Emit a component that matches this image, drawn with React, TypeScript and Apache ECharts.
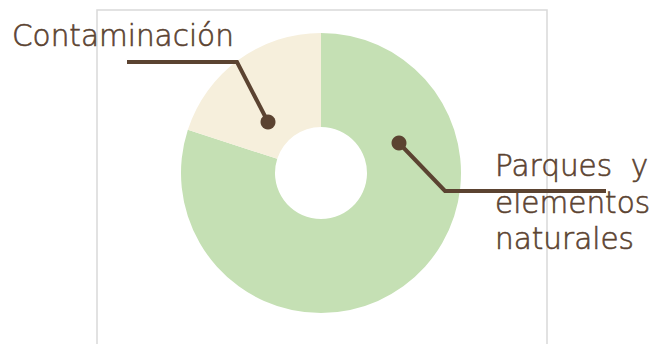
import React, { useEffect, useRef } from "react";
import * as echarts from "echarts";

const categories = ["Parques y elementos naturales", "Contaminación"];
const values = [80, 20];
const colors = ["#c5e0b4", "#f6efdc"];
const labelLines = [["Parques  y", "elementos", "naturales"], ["Contaminación"]];

const BROWN = "#5b4331";
const FONT = "DejaVu Sans";

export default function App() {
  const ref = useRef<HTMLDivElement>(null);
  useEffect(() => {
    if (!ref.current) return;
    const chart = echarts.init(ref.current, undefined, { renderer: "svg" });
    const textStyle = (x: number, y: number, t: string) => ({
      type: "text",
      x,
      y,
      style: {
        text: t,
        fill: BROWN,
        stroke: BROWN,
        lineWidth: 0.6,
        font: `200 29.5px '${FONT}'`,
        verticalAlign: "middle",
        align: "left",
      },
      z: 20,
    });
    chart.setOption({
      animation: false,
      backgroundColor: "#ffffff",
      series: [
        {
          type: "pie",
          center: [321, 173],
          radius: [46, 140],
          startAngle: 90,
          clockwise: true,
          label: { show: false },
          labelLine: { show: false },
          emphasis: { disabled: true },
          data: categories.map((c, i) => ({
            name: c,
            value: values[i],
            itemStyle: { color: colors[i] },
          })),
        },
      ],
      graphic: [
        {
          type: "rect",
          shape: { x: 97, y: 10, width: 450, height: 345 },
          style: { fill: "none", stroke: "#d9d9d9", lineWidth: 1.5 },
          z: 1,
        },
        {
          type: "polyline",
          shape: { points: [[127, 62], [237, 62], [268, 122]] },
          style: { stroke: BROWN, lineWidth: 4, fill: "none" },
          z: 10,
        },
        { type: "circle", shape: { cx: 268, cy: 122, r: 7.5 }, style: { fill: BROWN }, z: 11 },
        {
          type: "polyline",
          shape: { points: [[399, 143], [445, 191], [606, 191]] },
          style: { stroke: BROWN, lineWidth: 4, fill: "none" },
          z: 10,
        },
        { type: "circle", shape: { cx: 399, cy: 143, r: 7.5 }, style: { fill: BROWN }, z: 11 },
        textStyle(12, 36, labelLines[1][0]),
        textStyle(495, 166, labelLines[0][0]),
        textStyle(495, 203, labelLines[0][1]),
        textStyle(495, 239, labelLines[0][2]),
      ],
    });
    return () => chart.dispose();
  }, []);
  return (
    <div
      ref={ref}
      style={{ position: "absolute", left: 0, top: 0, width: 650, height: 344 }}
    />
  );
}
